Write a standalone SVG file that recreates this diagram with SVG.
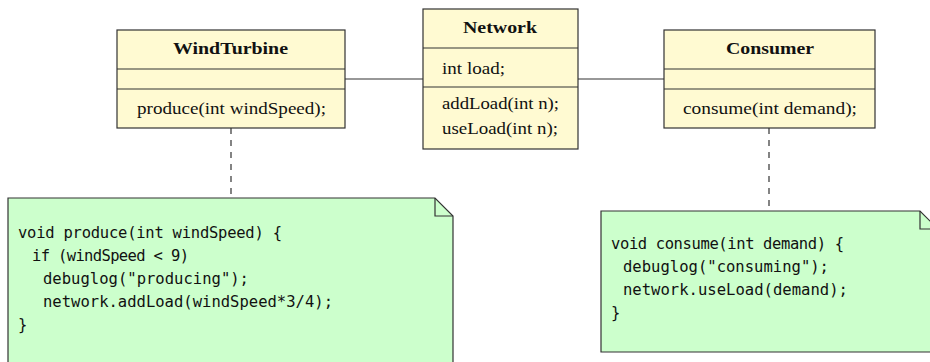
<svg xmlns="http://www.w3.org/2000/svg" width="930" height="362" viewBox="0 0 930 362">
<style>
.cls{fill:#fffad2;stroke:#333;stroke-width:1.2}
.div{stroke:#333;stroke-width:1.2}
.note{fill:#ccffcc;stroke:#333;stroke-width:1.2}
.t{font-family:"Liberation Serif",serif;font-size:17px;fill:#111}
.b{font-weight:bold}
.code{font-family:"DejaVu Sans Mono",monospace;font-size:15.5px;fill:#111}
.line{stroke:#333;stroke-width:1.2;fill:none}
.dash{stroke:#333;stroke-width:1.2;fill:none;stroke-dasharray:6 6}
</style>
<rect width="930" height="362" fill="#fff"/>
<g id="connectors">
<line class="line" x1="345" y1="79" x2="423" y2="79"/>
<line class="line" x1="578" y1="79" x2="664" y2="79"/>
<line class="dash" x1="231" y1="128" x2="231" y2="198"/>
<line class="dash" x1="769" y1="128" x2="769" y2="211"/>
</g>
<g id="WindTurbine">
<rect class="cls" x="117" y="30" width="228" height="98"/>
<line class="div" x1="117" y1="69" x2="345" y2="69"/>
<line class="div" x1="117" y1="89" x2="345" y2="89"/>
<text class="t b" x="173" y="54" textLength="115" lengthAdjust="spacingAndGlyphs">WindTurbine</text>
<text class="t" x="137" y="114" textLength="189" lengthAdjust="spacingAndGlyphs">produce(int windSpeed);</text>
</g>
<g id="Network">
<rect class="cls" x="423" y="9" width="155" height="140"/>
<line class="div" x1="423" y1="48" x2="578" y2="48"/>
<line class="div" x1="423" y1="87" x2="578" y2="87"/>
<text class="t b" x="463" y="33" textLength="74" lengthAdjust="spacingAndGlyphs">Network</text>
<text class="t" x="442" y="74" textLength="63" lengthAdjust="spacingAndGlyphs">int load;</text>
<text class="t" x="442" y="109" textLength="117" lengthAdjust="spacingAndGlyphs">addLoad(int n);</text>
<text class="t" x="442" y="134" textLength="116" lengthAdjust="spacingAndGlyphs">useLoad(int n);</text>
</g>
<g id="Consumer">
<rect class="cls" x="664" y="30" width="211" height="98"/>
<line class="div" x1="664" y1="69" x2="875" y2="69"/>
<line class="div" x1="664" y1="89" x2="875" y2="89"/>
<text class="t b" x="726" y="54" textLength="88" lengthAdjust="spacingAndGlyphs">Consumer</text>
<text class="t" x="683" y="114" textLength="174" lengthAdjust="spacingAndGlyphs">consume(int demand);</text>
</g>
<g id="note1">
<path class="note" d="M8,370 V198 H435 L453,216 V370"/>
<path class="line" d="M435,198 V216 H453"/>
<text class="code" x="18" y="238" textLength="264" lengthAdjust="spacing">void produce(int windSpeed) {</text>
<text class="code" x="32" y="261" textLength="157" lengthAdjust="spacing">if (windSpeed &lt; 9)</text>
<text class="code" x="43" y="284" textLength="206" lengthAdjust="spacingAndGlyphs">debuglog("producing");</text>
<text class="code" x="43" y="307" textLength="290" lengthAdjust="spacingAndGlyphs">network.addLoad(windSpeed*3/4);</text>
<text class="code" x="18" y="330">}</text>
</g>
<g id="note2">
<path class="note" d="M601,352 V211 H920 L938,229 V352 Z"/>
<path class="line" d="M920,211 V229 H938"/>
<text class="code" x="611" y="249" textLength="233" lengthAdjust="spacing">void consume(int demand) {</text>
<text class="code" x="623" y="272" textLength="206" lengthAdjust="spacingAndGlyphs">debuglog("consuming");</text>
<text class="code" x="623" y="295" textLength="225" lengthAdjust="spacingAndGlyphs">network.useLoad(demand);</text>
<text class="code" x="611" y="318">}</text>
</g>
</svg>
